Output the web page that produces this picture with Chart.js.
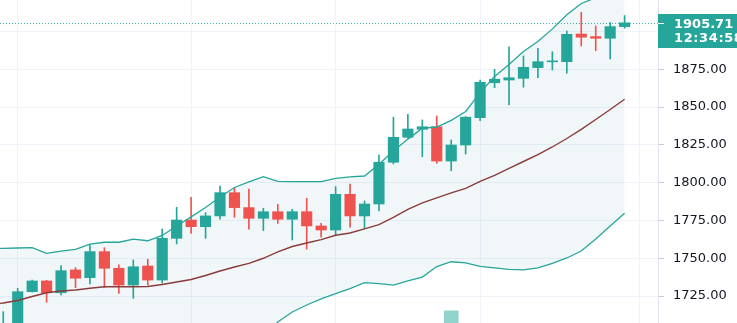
<!DOCTYPE html>
<html>
<head>
<meta charset="utf-8">
<title>XAUUSD 1h</title>
<script src="https://cdn.jsdelivr.net/npm/chart.js@4.4.1/dist/chart.umd.min.js"></script>
<style>
  html, body { margin: 0; padding: 0; background: #fff; overflow: hidden; }
</style>
</head>
<body>
<canvas id="chart" width="737" height="323"></canvas>
<script>
// OHLC per bar, oldest first. Slot 0 is the bar just left of the view (bands only).
const opens  = [null, 1699.0, 1703.0, 1727.9, 1735.0, 1727.2, 1742.3, 1737.2, 1754.4, 1743.4, 1732.3,
                1744.9, 1735.6, 1763.2, 1775.3, 1770.9, 1778.0, 1793.4, 1783.5, 1776.4, 1780.8,
                1775.8, 1780.8, 1771.4, 1768.7, 1792.3, 1778.0, 1785.9, 1813.5, 1830.0, 1835.3,
                1837.0, 1814.3, 1824.9, 1843.0, 1866.1, 1867.9, 1869.0, 1876.1, 1879.9, 1880.0,
                1898.3, 1896.6, 1895.5, 1903.2];
const highs  = [null, 1714.7, 1730.2, 1735.6, 1735.4, 1745.1, 1743.8, 1758.8, 1757.0, 1745.6, 1748.9,
                1749.3, 1769.4, 1783.7, 1790.3, 1780.2, 1797.8, 1796.3, 1795.8, 1783.1, 1785.7,
                1782.4, 1789.7, 1773.1, 1797.4, 1799.1, 1787.9, 1818.3, 1843.3, 1845.2, 1841.5,
                1844.1, 1828.2, 1843.7, 1867.9, 1875.0, 1889.9, 1883.8, 1888.9, 1886.6, 1900.3,
                1912.7, 1903.6, 1905.8, 1910.5];
const lows   = [null, 1695.0, 1700.0, 1727.6, 1720.9, 1725.7, 1730.6, 1733.0, 1730.8, 1726.8, 1723.5,
                1732.3, 1733.7, 1759.5, 1766.5, 1763.2, 1775.8, 1777.1, 1769.2, 1768.3, 1773.1,
                1762.1, 1756.1, 1763.9, 1765.4, 1770.5, 1769.8, 1781.3, 1812.4, 1829.5, 1817.2,
                1812.8, 1807.9, 1819.0, 1841.0, 1862.8, 1851.4, 1863.1, 1869.4, 1874.5, 1872.4,
                1890.4, 1887.3, 1881.8, 1902.1];
const closes = [null, 1705.0, 1727.9, 1735.0, 1727.2, 1741.8, 1736.8, 1754.4, 1743.4, 1732.3, 1744.4,
                1735.6, 1763.2, 1775.3, 1770.9, 1778.0, 1793.4, 1783.5, 1776.4, 1780.8, 1775.8,
                1780.8, 1771.4, 1768.7, 1792.3, 1778.0, 1785.9, 1813.5, 1830.0, 1835.5, 1837.0,
                1814.3, 1824.9, 1843.3, 1866.4, 1868.4, 1869.4, 1876.3, 1880.0, 1880.4, 1898.1,
                1896.2, 1895.5, 1903.2, 1905.71];

// only the one volume bar that rises into the price pane
const volume = [null, null, null, null, null, null, null, null, null, null, null,
                null, null, null, null, null, null, null, null, null, null,
                null, null, null, null, null, null, null, null, null, null,
                null, 3000, null, null, null, null, null, null, null, null,
                null, null, null, null];

// Bollinger Bands (20, 2)
const bbUpper = [1756.5, 1756.6, 1756.8, 1757.0, 1753.3, 1754.8, 1755.9, 1759.3, 1760.6, 1760.6, 1762.6,
                 1761.6, 1765.1, 1771.3, 1777.4, 1783.6, 1790.5, 1796.8, 1800.5, 1804.0, 1800.8,
                 1800.7, 1800.7, 1800.7, 1802.8, 1803.8, 1804.4, 1812.2, 1821.0, 1828.8, 1836.0,
                 1836.8, 1841.2, 1847.1, 1859.6, 1870.2, 1878.1, 1886.8, 1893.4, 1901.7, 1911.0,
                 1918.5, 1922.3, 1926.2, 1930.4];
const bbBasis = [1719.4, 1720.4, 1722.1, 1724.7, 1727.2, 1728.4, 1729.0, 1730.2, 1731.2, 1731.2, 1731.2,
                 1731.3, 1732.7, 1734.3, 1736.0, 1738.6, 1741.6, 1744.2, 1746.6, 1750.0, 1754.3,
                 1757.8, 1760.1, 1762.3, 1765.2, 1766.7, 1769.4, 1772.2, 1777.0, 1782.3, 1786.6,
                 1789.9, 1793.2, 1796.2, 1800.8, 1804.8, 1809.4, 1814.0, 1818.6, 1823.6, 1829.2,
                 1835.2, 1841.8, 1848.4, 1855.2];
const bbLower = [1681.5, 1684.2, 1687.4, 1692.4, 1701.1, 1702.0, 1702.1, 1701.1, 1701.8, 1701.8, 1699.8,
                 1701.0, 1700.3, 1697.2, 1694.6, 1693.6, 1692.7, 1691.6, 1692.7, 1698.0, 1707.9,
                 1714.5, 1719.1, 1723.1, 1726.6, 1730.0, 1733.9, 1733.3, 1732.3, 1735.0, 1737.6,
                 1744.5, 1747.7, 1746.9, 1744.6, 1743.6, 1742.6, 1742.3, 1743.6, 1746.6, 1750.2,
                 1754.8, 1762.8, 1771.4, 1779.8];

// bar indices where a new session starts (vertical grid)
const sessionStarts = [2, 14, 24, 34, 45];
const priceTicks = [1725, 1750, 1775, 1800, 1825, 1850, 1875, 1900];
const countdown = '12:34:58';

const UP = '#26a69a';
const DOWN = '#ef5350';
const FONT = '"DejaVu Sans", Verdana, sans-serif';

const idx = opens.map((_, i) => i);
const candleColors = idx.map(i => (closes[i] >= opens[i] ? UP : DOWN));
const series = arr => idx.map(i => ({ x: i, y: arr[i] }));
const ranges = (a, b) => idx.map(i => (a[i] == null ? { x: i, y: null } : { x: i, y: [a[i], b[i]] }));

// dotted last-price line plus the price / countdown tag on the axis
const lastPrice = {
    id: 'lastPrice',
    afterDatasetsDraw(chart) {
        const { ctx, chartArea, scales } = chart;
        const y = Math.round(scales.y.getPixelForValue(closes[closes.length - 1])) + 0.5;
        ctx.save();
        ctx.strokeStyle = 'rgba(38, 166, 154, 0.85)';
        ctx.lineWidth = 1;
        ctx.setLineDash([1, 2]);
        ctx.beginPath();
        ctx.moveTo(chartArea.left, y);
        ctx.lineTo(chartArea.right, y);
        ctx.stroke();
        ctx.restore();
    },
    afterDraw(chart) {
        const { ctx, chartArea, scales } = chart;
        const price = closes[closes.length - 1];
        const y = Math.round(scales.y.getPixelForValue(price));
        const x = chartArea.right;
        ctx.save();
        ctx.fillStyle = UP;
        ctx.fillRect(x, y - 9, chart.width - x, 34);
        ctx.strokeStyle = '#fff';
        ctx.lineWidth = 1;
        ctx.beginPath();
        ctx.moveTo(x, y + 0.5);
        ctx.lineTo(x + 6, y + 0.5);
        ctx.stroke();
        ctx.fillStyle = '#fff';
        ctx.font = 'bold 13px ' + FONT;
        ctx.textAlign = 'left';
        ctx.textBaseline = 'middle';
        ctx.fillText(price.toFixed(2), x + 16, y + 2);
        ctx.letterSpacing = '0.6px';
        ctx.fillText(countdown, x + 16, y + 16);
        ctx.restore();
    }
};

new Chart(document.getElementById('chart'), {
    type: 'bar',
    data: {
        datasets: [
            {
                type: 'line', label: 'Upper', data: series(bbUpper),
                borderColor: UP, borderWidth: 1.3, pointRadius: 0,
                fill: '+2', backgroundColor: 'rgba(20, 120, 140, 0.06)', order: 0
            },
            {
                type: 'line', label: 'Basis', data: series(bbBasis),
                borderColor: '#8a3b3b', borderWidth: 1.4, pointRadius: 0, fill: false, order: 0
            },
            {
                type: 'line', label: 'Lower', data: series(bbLower),
                borderColor: UP, borderWidth: 1.3, pointRadius: 0, fill: false, order: 0
            },
            {
                label: 'Wicks', data: ranges(lows, highs),
                backgroundColor: candleColors, barThickness: 1, grouped: false, order: 2
            },
            {
                label: 'Bodies', data: ranges(opens, closes),
                backgroundColor: candleColors, barThickness: 10.5, minBarLength: 1,
                grouped: false, order: 1
            },
            {
                label: 'Volume', data: series(volume), yAxisID: 'vol',
                backgroundColor: 'rgba(38, 166, 154, 0.5)', barThickness: 14,
                grouped: false, order: 3
            }
        ]
    },
    options: {
        responsive: false,
        animation: false,
        layout: { padding: 0 },
        plugins: {
            legend: { display: false },
            tooltip: { enabled: false },
            filler: { drawTime: 'beforeDatasetsDraw' }
        },
        scales: {
            x: {
                type: 'linear',
                min: 0.775,
                max: 46.31,
                offset: false,
                grid: { color: '#f0f3fa', drawTicks: false, offset: false },
                border: { display: false },
                ticks: { display: false },
                afterBuildTicks(scale) {
                    scale.ticks = sessionStarts.map(v => ({ value: v }));
                },
                afterFit(scale) {
                    scale.height = 0;
                    scale.paddingLeft = scale.paddingRight = 0;
                }
            },
            y: {
                position: 'right',
                min: 1707.2,
                max: 1920.8,
                grid: { color: '#f0f3fa', tickColor: '#c9ccd4', tickLength: 6 },
                border: { color: '#e0e3eb' },
                ticks: {
                    color: '#131722',
                    padding: 9,
                    font: { family: FONT, size: 13 },
                    includeBounds: false,
                    callback: v => v.toFixed(2)
                },
                afterBuildTicks(scale) {
                    scale.ticks = priceTicks.map(v => ({ value: v }));
                },
                afterFit(scale) {
                    scale.width = 79;
                    scale.paddingTop = scale.paddingBottom = 0;
                }
            },
            vol: {
                display: false,
                min: 0,
                max: 80000
            }
        }
    },
    plugins: [lastPrice]
});
</script>
</body>
</html>
